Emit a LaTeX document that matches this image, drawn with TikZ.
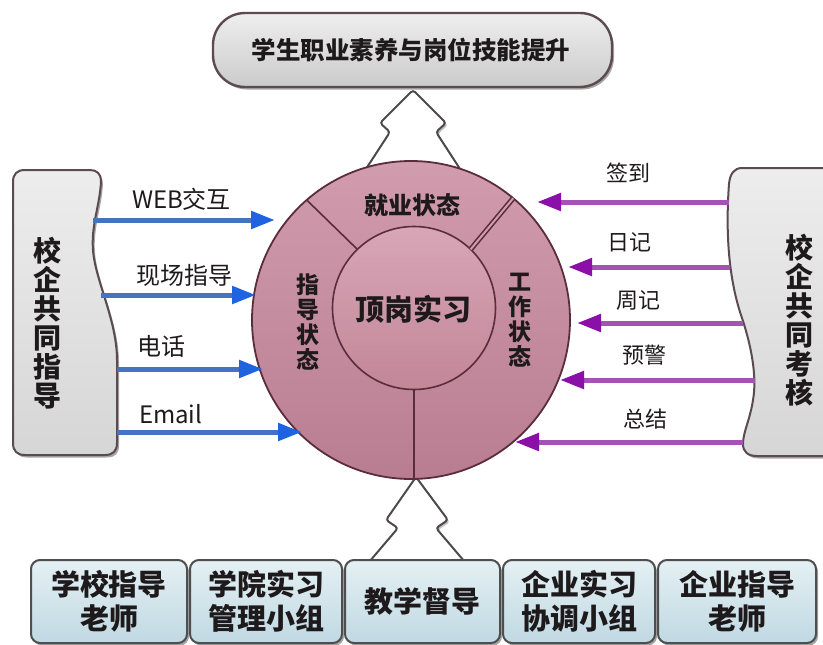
\documentclass[tikz,border=0pt]{standalone}
\usepackage{fontspec}
\setmainfont{Noto Sans CJK SC}
\usetikzlibrary{arrows.meta,shadows}
\definecolor{txt}{HTML}{1E1A1C}
\definecolor{ringtop}{HTML}{D19CAE}
\definecolor{ringbot}{HTML}{B97D91}
\definecolor{coretop}{HTML}{D8A6B7}
\definecolor{corebot}{HTML}{C28799}
\definecolor{ringdraw}{HTML}{5A2C3C}
\definecolor{scrolltop}{HTML}{EDEDED}
\definecolor{scrollbot}{HTML}{D6D6D6}
\definecolor{scrolldraw}{HTML}{5B4B4F}
\definecolor{bannertop}{HTML}{EEEEEE}
\definecolor{bannerbot}{HTML}{CBCBCB}
\definecolor{boxtop}{HTML}{E4F0F4}
\definecolor{boxbot}{HTML}{C0D9E2}
\definecolor{boxdraw}{HTML}{4E4E4E}
\definecolor{blueline}{HTML}{4672C2}
\definecolor{bluehead}{HTML}{1F63E0}
\definecolor{purpline}{HTML}{A452B4}
\definecolor{purphead}{HTML}{8A10A8}
\definecolor{treedraw}{HTML}{4E4A4C}
\begin{document}
\begin{tikzpicture}[x=1pt,y=-1pt,
  every node/.style={inner sep=0pt,outer sep=0pt,text=txt},
  softshadow/.style={drop shadow={shadow xshift=2pt,shadow yshift=-2.5pt,opacity=.35,fill=black}},
  banner/.style={draw=scrolldraw,line width=2.4pt,rounded corners=32pt,top color=bannertop,bottom color=bannerbot,softshadow},
  treearrow/.style={draw=treedraw,line width=2pt,rounded corners=3pt,fill=white,drop shadow={shadow xshift=2pt,shadow yshift=-2pt,opacity=.25,fill=black}},
  scrollshape/.style={draw=scrolldraw,line width=2pt,top color=scrolltop,bottom color=scrollbot,softshadow},
  ring/.style={circle,draw=ringdraw,line width=1.8pt,top color=ringtop,bottom color=ringbot},
  corec/.style={circle,draw=ringdraw,line width=1.6pt,top color=coretop,bottom color=corebot},
  divider/.style={draw=ringdraw,line width=1.6pt},
  bluearr/.style={draw=blueline,line width=5pt,-{Triangle[length=24pt,width=17pt,color=bluehead]}},
  purparr/.style={draw=purpline,line width=5pt,-{Triangle[length=24pt,width=17pt,color=purphead]}},
  lbl/.style={font=\fontsize{24}{24}\selectfont},
  rlbl/.style={font=\fontsize{22}{22}\selectfont},
  scrolltext/.style={align=center,font=\bfseries\fontsize{28}{29}\selectfont},
  vtext/.style={align=center,font=\bfseries\fontsize{23}{25}\selectfont},
  bbox/.style={draw=boxdraw,line width=2pt,rounded corners=9pt,top color=boxtop,bottom color=boxbot,softshadow,align=center,minimum height=83pt,font=\bfseries\fontsize{29}{34}\selectfont}
]
\useasboundingbox (0,0) rectangle (823,645);

% banner
\path[banner] (213,13) rectangle (612,87);
\node[font=\bfseries\fontsize{24.5}{24}\selectfont] (bannertext) at (411,50) {学生职业素养与岗位技能提升};

% tree arrows
\path[treearrow] (413,90) -- (380,123) -- (390,132) -- (364,172) -- (462,172) -- (436,132) -- (446,123) -- cycle;
\path[treearrow] (416,477) -- (386,520) -- (398,528) -- (364,568) -- (470,568) -- (436,528) -- (448,520) -- cycle;

% circle
\node[ring,minimum size=318pt] (circ) at (411,320) {};
\node[corec,minimum size=163pt] (core) at (414,308) {};
\draw[divider] (core.134) -- (circ.131);
\draw[divider,double=ringtop,double distance=2pt] (core.46) -- (circ.50);
\draw[divider] (core.south) -- (core.south |- circ.south);

\node[font=\bfseries\fontsize{24}{24}\selectfont] (jiuye) at (412,205) {就业状态};
\node[vtext] (zhidao) at (308,322) {指\\导\\状\\态};
\node[vtext] (gongzuo) at (520,320) {工\\作\\状\\态};
\node[font=\bfseries\fontsize{29}{29}\selectfont] (dinggang) at (413,309) {顶岗实习};

% scrolls
\path[scrollshape] (25,170) -- (90,170) .. controls (97,170) and (101,174) .. (101,181)
  .. controls (100,205) and (91,225) .. (93,250)
  .. controls (95,280) and (117,320) .. (117,360) -- (117,443)
  .. controls (117,451) and (113,455) .. (105,455) -- (25,455)
  .. controls (17,455) and (13,451) .. (13,443) -- (13,182)
  .. controls (13,174) and (17,170) .. (25,170) -- cycle;
\node[scrolltext] (lefttext) at (48,323) {校\\企\\共\\同\\指\\导};

\path[scrollshape] (840,168) -- (742,168) .. controls (734,168) and (730,174) .. (729,184)
  .. controls (726,225) and (727,275) .. (742,318)
  .. controls (752,348) and (757,378) .. (753,400)
  .. controls (750,420) and (743,432) .. (743,444)
  .. controls (743,452) and (748,456) .. (757,456) -- (840,456) -- cycle;
\node[scrolltext] (righttext) at (799,320) {校\\企\\共\\同\\考\\核};

% left arrows
\coordinate (ls1) at (93,220);  \coordinate (le1) at (275,220);
\coordinate (ls2) at (101,295); \coordinate (le2) at (256,295);
\coordinate (ls3) at (117,369); \coordinate (le3) at (263,369);
\coordinate (ls4) at (117,432); \coordinate (le4) at (302,432);
\draw[bluearr] (ls1) -- (le1);
\draw[bluearr] (ls2) -- (le2);
\draw[bluearr] (ls3) -- (le3);
\draw[bluearr] (ls4) -- (le4);
\node[lbl,anchor=west] (l1) at (132,199) {WEB交互};
\node[lbl,anchor=west] (l2) at (136,275) {现场指导};
\node[lbl,anchor=west] (l3) at (137,346) {电话};
\node[lbl,anchor=west] (l4) at (139,414) {Email};

% right arrows
\coordinate (rs1) at (729,202); \coordinate (re1) at (537,202);
\coordinate (rs2) at (730,267); \coordinate (re2) at (568,267);
\coordinate (rs3) at (743,323); \coordinate (re3) at (577,323);
\coordinate (rs4) at (755,380); \coordinate (re4) at (560,380);
\coordinate (rs5) at (743,442); \coordinate (re5) at (515,442);
\draw[purparr] (rs1) -- (re1);
\draw[purparr] (rs2) -- (re2);
\draw[purparr] (rs3) -- (re3);
\draw[purparr] (rs4) -- (re4);
\draw[purparr] (rs5) -- (re5);
\node[rlbl] (r1) at (628,173) {签到};
\node[rlbl] (r2) at (629,242) {日记};
\node[rlbl] (r3) at (638,300) {周记};
\node[rlbl] (r4) at (644,355) {预警};
\node[rlbl] (r5) at (645,419) {总结};

% bottom boxes
\node[bbox,minimum width=156pt] (b1) at (109,601.5) {学校指导\\老师};
\node[bbox,minimum width=152pt] (b2) at (266,601.5) {学院实习\\管理小组};
\node[bbox,minimum width=155pt] (b3) at (422.5,601.5) {教学督导};
\node[bbox,minimum width=152pt] (b4) at (579,601.5) {企业实习\\协调小组};
\node[bbox,minimum width=158pt] (b5) at (737,601.5) {企业指导\\老师};
\end{tikzpicture}
\end{document}
